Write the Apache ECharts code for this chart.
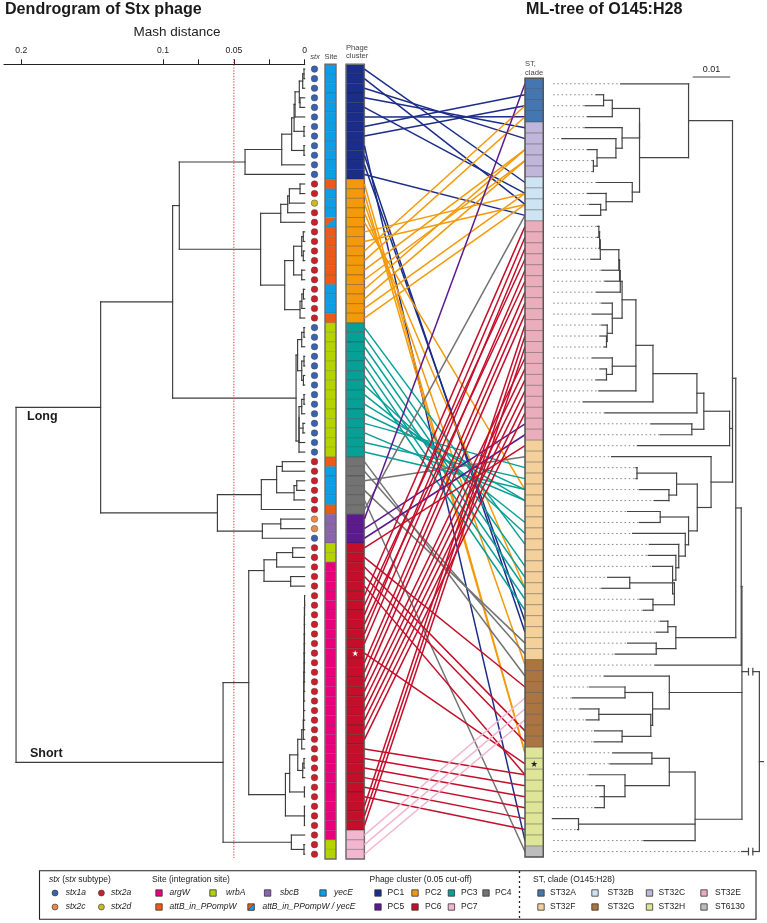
<!DOCTYPE html>
<html>
<head>
<meta charset="utf-8">
<style>
  html, body { margin: 0; padding: 0; background: #fff; }
  #main { width: 767px; height: 923px; }
</style>
<script src="https://cdn.jsdelivr.net/npm/echarts@6/dist/echarts.min.js"></script>
</head>
<body>
<div id="main"></div>
<script>
// colours
const stxColors = { stx1a: "#3a62ad", stx2a: "#c9202c", stx2c: "#e58a4e", stx2d: "#c9b82c" };
const siteColors = { argW: "#e6007e", wrbA: "#b6d300", sbcB: "#8a64ad", yecE: "#0a9fe6", attB: "#ee5a16" };
const pcColors = { PC1: "#1a2d88", PC2: "#f49a0a", PC3: "#07a097", PC4: "#737373", PC5: "#5c1a8e", PC6: "#c50e2a", PC7: "#f3b6d1" };
const stColors = { ST32A: "#4476b1", ST32B: "#cfe4f3", ST32C: "#bfb6da", ST32E: "#e9adbb", ST32F: "#f4d19b", ST32G: "#ab7541", ST32H: "#dfe597", ST6130: "#bcbcbc" };

// per row columns, as runs of [name, count]
const stxRuns = [["stx1a",12],["stx2a",2],["stx2d",1],["stx2a",12],["stx1a",14],["stx2a",6],["stx2c",2],["stx1a",1],["stx2a",33]];
const siteRuns = [["yecE",12],["attB",1],["yecE",3],["split",1],["attB",6],["yecE",3],["attB",1],["wrbA",14],["attB",1],["yecE",4],["attB",1],["sbcB",3],["wrbA",2],["argW",29],["wrbA",2]];
const pcRuns = [["PC1",12],["PC2",15],["PC3",14],["PC4",6],["PC5",3],["PC6",30],["PC7",3]];
const stRuns = [["ST32A",4],["ST32C",5],["ST32B",4],["ST32E",20],["ST32F",20],["ST32G",8],["ST32H",9],["ST6130",1]];

// phage row -> strain row, one array per phage cluster
const linksPC1 = [9,11,5,4,10,3,1,2,69,50,49,12];
const linksPC2 = [61,61,53,46,37,10,11,2,3,6,7,6,7,10,11];
const linksPC3 = [42,44,45,46,47,48,41,40,38,37,35,38,36,37];
const linksPC4 = [54,52,34,51,70,12];
const linksPC5 = [0,31,32];
const linksPC6 = [33,55,59,60,63,13,16,14,18,15,17,62,19,20,21,25,26,27,28,29,30,63,64,65,66,67,68,22,23,24];
const linksPC7 = [56,57,58];

// Stx phage dendrogram: [merge height (Mash distance), ...children], numbers are rows
const stackHeights = [.0001,.0001,.0002,.0002,.0002,.0003,.0003,.0004,.0004,.0006,.0006,.0008,.0008,.0008,.0010];
const stackRows = [56,57,58,59,60,61,62,63,64,65,66,67,68,69,70];
const stack = stackRows.reduce((acc, row, i) => [stackHeights[i], acc, row], 55);

const cladePC1 = [.0421,[.0162,[.0092,[.0075,[.0068,[.0038,[.0014,[.0005,0,1],2],[.0033,3,4]],5],[.0005,6,7]],[.0005,8,9]],10],11];
const cladePC2 = [.0311,
  [.0169,[.012,[.0108,[.0033,12,13],14],15],16],
  [.0141,[.0078,[.0021,[.001,17,18],[.001,19,20]],[.0021,21,22]],[.0033,[.002,[.0009,23,24],25],26]]];
const cladePC3 = [.0061,
  [.005,[.0021,[.0005,27,28],29],[.0021,[.0005,30,31],[.0009,32,33]]],
  [.004,[.004,[.004,[.0021,[.0005,34,35],36],[.0012,37,38]],39],40]];
const cladeMid = [.0616,
  [.0306,[.0198,[.0158,41,42],[.0075,[.0056,43,44],45]],46],
  [.0299,[.0169,47,48],49]];
const cladeShort = [.0576,
  [.0395,
    [.0287,[.0198,[.0085,50,51],52],[.0099,53,54]],
    [.0136,[.0106,[.0049,[.0021,stack,71],[.0014,[.0005,72,73],74]],[.0002,75,76]],[.0002,77,78,79]]],
  [.0094,80,[.0005,81,82]]];
const phageTree = [.2037, [.144, [.0932, [.0885, cladePC1, cladePC2], cladePC3], cladeMid], cladeShort];

// ML tree: x in 1/1000 units, 0.01 = 10. mlTips = where the solid part of each leaf starts
const mlTips = [18.9,12.1,9.1,9.7,9.1,2.7,9.7,11.2,11.2,12.3,9.7,10.3,7.7,12.5,12.5,12.9,10.7,13.7,14.6,12.3,
  13.7,11.2,13.7,13.2,14.3,11.2,13.2,12.1,12.9,8.6,14.6,27.2,29.8,23.5,16.4,23.1,23.1,24.1,28.1,20.8,
  24.1,22.2,26.8,26.5,27.7,15.3,13.7,24.2,25.2,29.9,28.8,20.8,17.4,28.4,14.4,10.3,5.6,7.7,9.4,11.7,
  11.6,16.7,16.0,10.2,12.1,13.2,11.8,0.1,7.0,25.3,52.2];
const mlSolidLeaves = [67];
const mlA = [37.6,0,[24.1,[24.1,[16.6,[14.2,1,2],3],[19.3,4,[17.6,5,[12.4,6,[11.4,7,8]]]]],[22.1,9,[14.9,10,[13.4,11,12]]]]];
const mlE = [48.9,[41.8,[39.9,[27.8,[23.1,
    [19.3,[18.8,[18.6,[18.4,[13.3,[13.1,[12.9,13,14],15],16],17],18],19],[16.6,20,21,[15.2,22,[15,23,24]]]],
    [16.6,25,[15,26,27]],28],29],30],[38.5,31,32]],33];
const mlF1 = [43.8,34,[40,
  [34.3,[23.4,35,36],[32.2,37,38]],
  [37.6,[29.8,39,40],[36.7,41,[34.9,42,[34.1,43,[33.2,44,[33.7,[21.4,45,46],[27.8,47,48]]]]]]]]];
const mlF2 = [34.1,[31.9,49,50],[28.7,51,52]];
const mlG = [32.3,54,[27.7,[20.1,55,56],[27.2,[12.9,57,58],[19.3,59,60]]]];
const mlH = { h: 39.4, at: 67.06, kids: [[32.3,[27.5,61,62],[20.1,63,[14.4,64,65,66]]],[7.3,67,68],69] };
const mlUpper = [52.1,[50.6,{ h: 49.7, at: 26.85, kids: [mlA, mlE, mlF1] },mlF2],53];
const mlBig = { h: 52.3, at: 53.6, kids: [mlUpper, mlG, mlH] };
const mlTree = { h: 57.1, gap: [54.1,55.3], stub: 58.2, kids: [mlBig, 70] };
const scaleBar = [38.9, 48.9, -0.12];

// axis ticks
const mashTicks = [0,.025,.05,.075,.1,.2];
const mashLabels = [0,.05,.1,.2];
const cutOff = .05;

const expand = runs => runs.flatMap(([name, n]) => Array(n).fill(name));
const stxRows = expand(stxRuns);
const siteRows = expand(siteRuns);
const pcRows = expand(pcRuns);
const stRows = expand(stRuns);
const linkRows = [].concat(linksPC1, linksPC2, linksPC3, linksPC4, linksPC5, linksPC6, linksPC7);

// turns a nested tree into line segments [x1,y1,x2,y2,kind]
function place(node, tip, out) {
  if (typeof node === "number") return { x: tip(node), y: node + .5 };
  const isArr = Array.isArray(node);
  const h = isArr ? node[0] : node.h;
  const kids = (isArr ? node.slice(1) : node.kids).map(k => place(k, tip, out));
  const ys = kids.map(k => k.y);
  const y = (!isArr && node.at !== undefined) ? node.at + .5 : (ys[0] + ys[ys.length - 1]) / 2;
  out.push([h, ys[0], h, ys[ys.length - 1], 0]);
  kids.forEach(k => {
    if (!isArr && node.gap) {
      out.push([k.x, k.y, node.gap[0], k.y, 0], [node.gap[1], k.y, h, k.y, 0]);
      node.gap.forEach(g => out.push([g, k.y - .3, g, k.y + .3, 0]));
    } else {
      out.push([k.x, k.y, h, k.y, 0]);
    }
  });
  if (!isArr && node.stub) out.push([h, y, node.stub, y, 0]);
  return { x: h, y };
}

const phageSegs = [];
place(phageTree, () => 0, phageSegs);
const mlSegs = [];
place(mlTree, j => mlTips[j], mlSegs);
mlTips.forEach((t, j) => {
  if (!mlSolidLeaves.includes(j)) mlSegs.push([.3, j + .5, t, j + .5, 1]);
});
mlSegs.push([scaleBar[0], scaleBar[2], scaleBar[1], scaleBar[2], 0]);

const chart = echarts.init(document.getElementById("main"));
const FONT = "Liberation Sans";
const LEFT_TOP = 64.3, LEFT_H = 794.7, RIGHT_TOP = 78.3, RIGHT_H = 778.7;

function treeRender(color, width) {
  return (params, api) => {
    const a = api.coord([api.value(0), api.value(1)]);
    const b = api.coord([api.value(2), api.value(3)]);
    const dotted = api.value(4) === 1;
    return {
      type: "line",
      shape: { x1: a[0], y1: a[1], x2: b[0], y2: b[1] },
      style: dotted ? { stroke: "#8a8a8a", lineWidth: 1, lineDash: [1.6, 2.6] } : { stroke: color, lineWidth: width, lineCap: "square" }
    };
  };
}

// one column of stacked cells, colour picked from the row name
function cellRender(rows, colors, sep) {
  return (params, api) => {
    const r = api.value(0);
    const p0 = api.coord([0, r]);
    const p1 = api.coord([1, r + 1]);
    const name = rows[r];
    const w = p1[0] - p0[0], h = p1[1] - p0[1];
    if (name === "split") {
      return { type: "group", children: [
        { type: "rect", shape: { x: p0[0], y: p0[1], width: w, height: h }, style: { fill: colors.attB } },
        { type: "polygon", shape: { points: [[p1[0], p0[1]], [p1[0], p1[1]], [p0[0], p1[1]]] }, style: { fill: colors.yecE } }
      ] };
    }
    return { type: "rect", shape: { x: p0[0], y: p0[1], width: w, height: h }, style: { fill: colors[name], stroke: sep, lineWidth: .6 } };
  };
}

function frameRender(color, width, total) {
  return (params, api) => {
    const p0 = api.coord([0, 0]);
    const p1 = api.coord([1, total]);
    return { type: "rect", shape: { x: p0[0], y: p0[1], width: p1[0] - p0[0], height: p1[1] - p0[1] }, style: { fill: "none", stroke: color, lineWidth: width } };
  };
}

function linkRender(params, api) {
  const a = chart.convertToPixel({ gridIndex: 3 }, [1, api.value(0) + .5]);
  const b = chart.convertToPixel({ gridIndex: 4 }, [0, api.value(1) + .5]);
  return {
    type: "line",
    shape: { x1: a[0], y1: a[1], x2: b[0], y2: b[1] },
    style: { stroke: pcColors[pcRows[api.value(0)]], lineWidth: 1.5 }
  };
}

const hiddenX = i => ({ gridIndex: i, type: "value", min: 0, max: 1, show: false });
const hiddenY = (i, n) => ({ gridIndex: i, type: "value", min: 0, max: n, inverse: true, show: false });
const STAR = "path://M50 0L62 36L100 36L69 58L81 95L50 72L19 95L31 58L0 36L38 36Z";

// legend and text, all laid out by hand
const graphics = [];
const txt = (x, y, text, o) => graphics.push({ type: "text", x, y, silent: true, style: Object.assign({ text, fontFamily: FONT, fontSize: 8.5, fill: "#222", verticalAlign: "middle" }, o) });
const swatch = (x, y, color) => graphics.push({ type: "rect", silent: true, shape: { x: x - 3.2, y: y - 3.2, width: 6.4, height: 6.4 }, style: { fill: color, stroke: "#333", lineWidth: .8 } });
const dot = (x, y, color) => graphics.push({ type: "circle", silent: true, shape: { cx: x, cy: y, r: 3 }, style: { fill: color, stroke: "#333", lineWidth: .6 } });

txt(5, 10, "Dendrogram of Stx phage", { fontSize: 16.1, fontWeight: "bold", fill: "#1a1a1a" });
txt(526, 10, "ML-tree of O145:H28", { fontSize: 16.1, fontWeight: "bold", fill: "#1a1a1a" });
txt(177, 32.5, "Mash distance", { fontSize: 13.5, textAlign: "center" });
txt(27, 417, "Long", { fontSize: 12.5, fontWeight: "bold", fill: "#1a1a1a" });
txt(30, 754, "Short", { fontSize: 12.5, fontWeight: "bold", fill: "#1a1a1a" });
txt(315, 56.5, "stx", { fontSize: 7.6, fontStyle: "italic", textAlign: "center", fill: "#444" });
txt(331, 56.5, "Site", { fontSize: 7.6, textAlign: "center", fill: "#444" });
txt(346, 47.5, "Phage", { fontSize: 7.6, fill: "#444" });
txt(346, 56, "cluster", { fontSize: 7.6, fill: "#444" });
txt(525, 63.5, "ST,", { fontSize: 7.6, fill: "#444" });
txt(525, 72.5, "clade", { fontSize: 7.6, fill: "#444" });
txt(711.5, 70, "0.01", { fontSize: 9, textAlign: "center" });

graphics.push({ type: "rect", silent: true, shape: { x: 39.5, y: 870.7, width: 716.5, height: 48.5 }, style: { fill: "none", stroke: "#222", lineWidth: 1.1 } });
graphics.push({ type: "line", silent: true, shape: { x1: 519.5, y1: 871, x2: 519.5, y2: 919 }, style: { stroke: "#222", lineWidth: 1.3, lineDash: [2, 3] } });

const HEAD = 880, ROW1 = 893, ROW2 = 907;
const ITALIC = { fontStyle: "italic" };
txt(49, HEAD, "{i|stx} ({i|stx} subtype)", { rich: { i: { fontStyle: "italic", fontFamily: FONT, fontSize: 8.5, fill: "#222" } } });
txt(152, HEAD, "Site (integration site)");
txt(369.5, HEAD, "Phage cluster (0.05 cut-off)");
txt(533, HEAD, "ST, clade (O145:H28)");

dot(55, ROW1, stxColors.stx1a); txt(65.7, ROW1, "stx1a", ITALIC);
dot(101.4, ROW1, stxColors.stx2a); txt(111, ROW1, "stx2a", ITALIC);
dot(55, ROW2, stxColors.stx2c); txt(65.7, ROW2, "stx2c", ITALIC);
dot(101.4, ROW2, stxColors.stx2d); txt(111, ROW2, "stx2d", ITALIC);

swatch(159, ROW1, siteColors.argW); txt(169.5, ROW1, "argW", ITALIC);
swatch(213, ROW1, siteColors.wrbA); txt(226, ROW1, "wrbA", ITALIC);
swatch(267.6, ROW1, siteColors.sbcB); txt(280, ROW1, "sbcB", ITALIC);
swatch(323, ROW1, siteColors.yecE); txt(334, ROW1, "yecE", ITALIC);
swatch(159, ROW2, siteColors.attB); txt(169.5, ROW2, "attB_in_PPompW", ITALIC);
swatch(251, ROW2, siteColors.attB);
graphics.push({ type: "polygon", silent: true, shape: { points: [[254.2, ROW2 - 3.2], [254.2, ROW2 + 3.2], [247.8, ROW2 + 3.2]] }, style: { fill: siteColors.yecE, stroke: "#333", lineWidth: .5 } });
txt(262.4, ROW2, "attB_in_PPompW / yecE", ITALIC);

[["PC1",378,ROW1,387.6],["PC2",415,ROW1,425],["PC3",451.4,ROW1,461],["PC4",486,ROW1,495],["PC5",378,ROW2,387.6],["PC6",415,ROW2,425],["PC7",451.4,ROW2,461]]
  .forEach(([n, sx, y, tx]) => { swatch(sx, y, pcColors[n]); txt(tx, y, n); });
[["ST32A",541,ROW1,550],["ST32B",595,ROW1,607.6],["ST32C",649.5,ROW1,658.6],["ST32E",704,ROW1,715],["ST32F",541,ROW2,550],["ST32G",595,ROW2,607.6],["ST32H",649.5,ROW2,658.6],["ST6130",704,ROW2,715]]
  .forEach(([n, sx, y, tx]) => { swatch(sx, y, stColors[n]); txt(tx, y, n); });

const rowIdx = n => Array.from({ length: n }, (_, i) => [i]);

chart.setOption({
  animation: false,
  backgroundColor: "#fff",
  textStyle: { fontFamily: FONT },
  grid: [
    { left: 4, top: LEFT_TOP, width: 300.7, height: LEFT_H },      // dendrogram
    { left: 310, top: LEFT_TOP, width: 9, height: LEFT_H },        // stx dots
    { left: 325, top: LEFT_TOP, width: 11, height: LEFT_H },       // site
    { left: 346, top: LEFT_TOP, width: 18.4, height: LEFT_H },     // phage cluster
    { left: 525, top: RIGHT_TOP, width: 18.3, height: RIGHT_H },   // ST clade
    { left: 552, top: RIGHT_TOP, width: 215, height: RIGHT_H }     // ML tree
  ],
  xAxis: [
    {
      gridIndex: 0, type: "value", position: "top", inverse: true, min: 0, max: .2122, offset: 5.6,
      splitLine: { show: false },
      axisLine: { show: true, lineStyle: { color: "#222", width: 1.2 } },
      axisTick: { show: true, length: 5, customValues: mashTicks, lineStyle: { color: "#222", width: 1 } },
      axisLabel: { customValues: mashLabels, fontSize: 8.6, color: "#222", margin: 3.5, formatter: v => String(v) }
    },
    hiddenX(1), hiddenX(2), hiddenX(3), hiddenX(4),
    { gridIndex: 5, type: "value", min: 0, max: 59.2, show: false }
  ],
  yAxis: [hiddenY(0, 83), hiddenY(1, 83), hiddenY(2, 83), hiddenY(3, 83), hiddenY(4, 71), hiddenY(5, 71)],
  series: [
    { type: "line", xAxisIndex: 0, yAxisIndex: 0, clip: false, symbol: "none", silent: true,
      data: [[cutOff, -.55], [cutOff, 82.9]], lineStyle: { color: "#e8343f", width: 1, type: [1.3, 1.5] }, z: 3 },
    { type: "custom", xAxisIndex: 0, yAxisIndex: 0, silent: true, data: phageSegs, encode: { x: [0, 2], y: [1, 3] },
      renderItem: treeRender("#3c3c3c", 1.15) },
    { type: "scatter", xAxisIndex: 1, yAxisIndex: 1, silent: true, symbolSize: 6.6, data: stxRows.map((s, i) => [.5, i + .5]),
      itemStyle: { color: p => stxColors[stxRows[p.dataIndex]], borderColor: "#33333399", borderWidth: .6, opacity: 1 } },
    { type: "custom", xAxisIndex: 2, yAxisIndex: 2, silent: true, data: rowIdx(83), encode: { y: 0 },
      renderItem: cellRender(siteRows, siteColors, "rgba(60,60,60,.3)") },
    { type: "custom", xAxisIndex: 2, yAxisIndex: 2, silent: true, data: [[0]], encode: { y: 0 },
      renderItem: frameRender("#6f6f6f", 1.4, 83) },
    { type: "custom", xAxisIndex: 3, yAxisIndex: 3, silent: true, data: rowIdx(83), encode: { y: 0 },
      renderItem: cellRender(pcRows, pcColors, "rgba(30,30,30,.45)") },
    { type: "custom", xAxisIndex: 3, yAxisIndex: 3, silent: true, data: [[0]], encode: { y: 0 },
      renderItem: frameRender("#6f6f6f", 1.4, 83) },
    { type: "scatter", xAxisIndex: 3, yAxisIndex: 3, silent: true, symbol: STAR, symbolSize: 6, z: 5,
      data: [[.5, 61.5]], itemStyle: { color: "#fff", opacity: 1 } },
    { type: "custom", coordinateSystem: "none", silent: true, data: linkRows.map((j, i) => [i, j]), renderItem: linkRender },
    { type: "custom", xAxisIndex: 4, yAxisIndex: 4, silent: true, data: rowIdx(71), encode: { y: 0 },
      renderItem: cellRender(stRows, stColors, "rgba(50,50,50,.5)") },
    { type: "custom", xAxisIndex: 4, yAxisIndex: 4, silent: true, data: [[0]], encode: { y: 0 },
      renderItem: frameRender("#555", 1.4, 71) },
    { type: "scatter", xAxisIndex: 4, yAxisIndex: 4, silent: true, symbol: STAR, symbolSize: 6.5, z: 5,
      data: [[.5, 62.5]], itemStyle: { color: "#222", opacity: 1 } },
    { type: "custom", xAxisIndex: 5, yAxisIndex: 5, silent: true, data: mlSegs, encode: { x: [0, 2], y: [1, 3] },
      renderItem: treeRender("#444", 1.2) }
  ],
  graphic: { elements: graphics }
});
</script>
</body>
</html>
